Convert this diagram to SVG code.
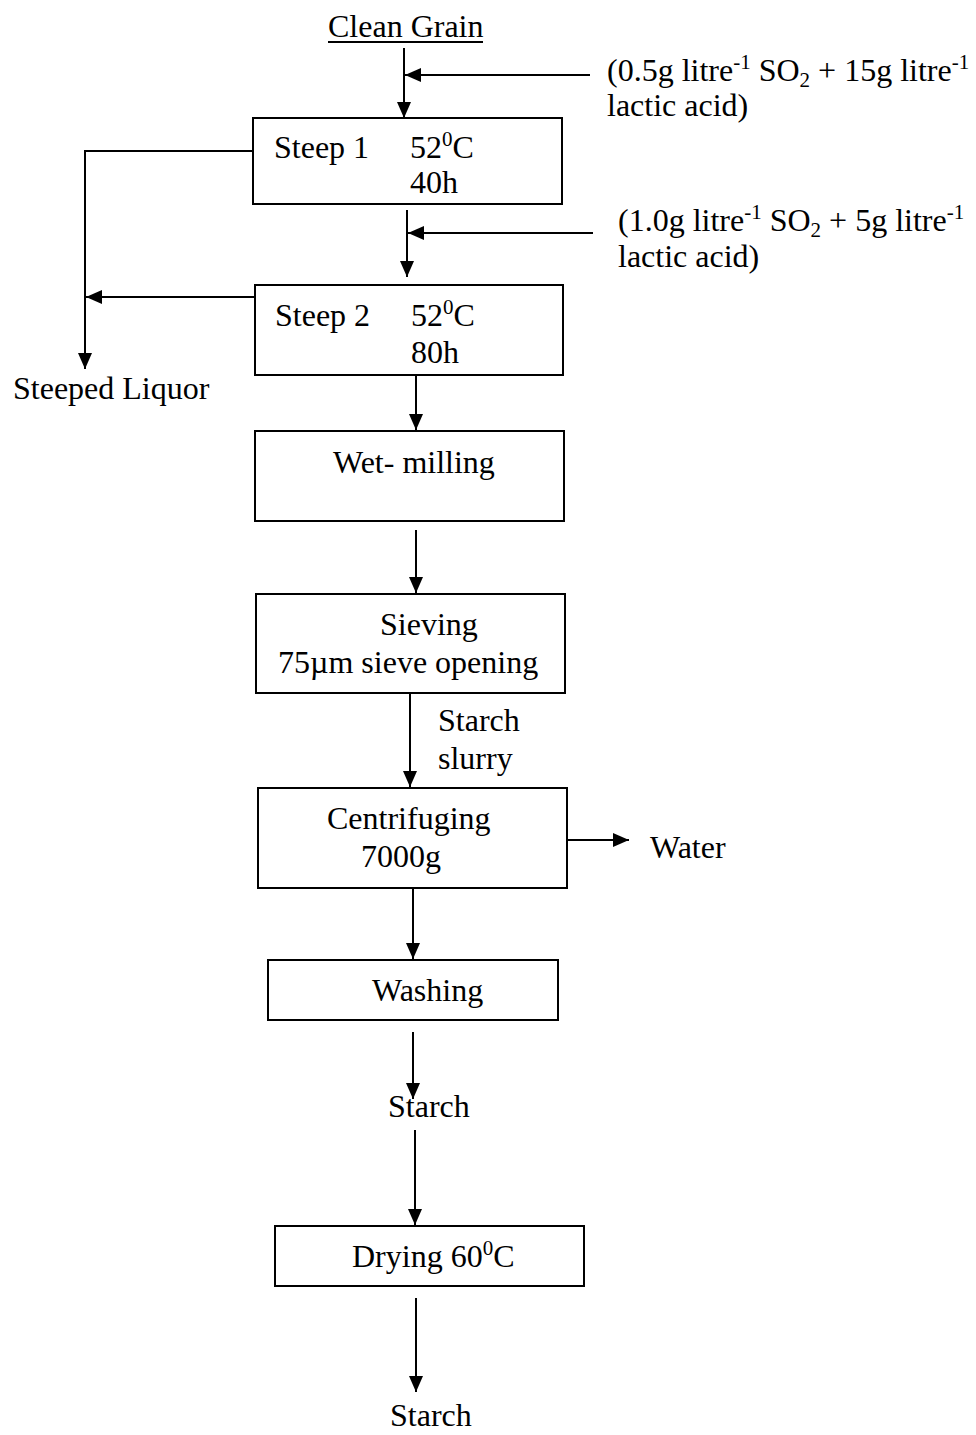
<svg xmlns="http://www.w3.org/2000/svg" width="976" height="1435" viewBox="0 0 976 1435">
<style>
text{font-family:"Liberation Serif","Times New Roman",serif;font-size:32px;fill:#000}
.box{fill:#fff;stroke:#000;stroke-width:2}
.ln{fill:none;stroke:#000;stroke-width:2}
.sup{font-size:21px}
</style>
<defs>
<marker id="ah" viewBox="0 0 16 14" refX="16" refY="7" markerWidth="16" markerHeight="14" markerUnits="userSpaceOnUse" orient="auto">
<path d="M0,0 L16,7 L0,14 z" fill="#000"/>
</marker>
</defs>
<rect width="976" height="1435" fill="#fff"/>
<g id="connectors">
<line class="ln" x1="404" y1="48" x2="404" y2="118" marker-end="url(#ah)"/>
<line class="ln" x1="590" y1="75" x2="405" y2="75" marker-end="url(#ah)"/>
<line class="ln" x1="407" y1="210" x2="407" y2="277" marker-end="url(#ah)"/>
<line class="ln" x1="593" y1="233" x2="408" y2="233" marker-end="url(#ah)"/>
<polyline class="ln" points="253,151 85,151 85,369" marker-end="url(#ah)"/>
<line class="ln" x1="255" y1="297" x2="86" y2="297" marker-end="url(#ah)"/>
<line class="ln" x1="416" y1="375" x2="416" y2="430" marker-end="url(#ah)"/>
<line class="ln" x1="416" y1="530" x2="416" y2="593" marker-end="url(#ah)"/>
<line class="ln" x1="410" y1="693" x2="410" y2="787" marker-end="url(#ah)"/>
<line class="ln" x1="567" y1="840" x2="629" y2="840" marker-end="url(#ah)"/>
<line class="ln" x1="413" y1="888" x2="413" y2="959" marker-end="url(#ah)"/>
<line class="ln" x1="413" y1="1032" x2="413" y2="1099" marker-end="url(#ah)"/>
<line class="ln" x1="415" y1="1130" x2="415" y2="1225" marker-end="url(#ah)"/>
<line class="ln" x1="416" y1="1298" x2="416" y2="1392" marker-end="url(#ah)"/>
</g>
<g id="clean-grain">
<text x="328" y="37">Clean Grain</text>
<line class="ln" x1="328" y1="42" x2="483" y2="42" stroke-width="1.5"/>
</g>
<g id="additive-1">
<text x="607" y="81">(0.5g litre<tspan class="sup" dy="-12">-1</tspan><tspan dy="12"> SO</tspan><tspan class="sup" dy="6">2</tspan><tspan dy="-6"> + 15g litre</tspan><tspan class="sup" dy="-12">-1</tspan></text>
<text x="607" y="116">lactic acid)</text>
</g>
<g id="steep-1">
<rect class="box" x="253" y="118" width="309" height="86"/>
<text x="274" y="158">Steep 1</text>
<text x="410" y="158">52<tspan class="sup" dy="-12">0</tspan><tspan dy="12">C</tspan></text>
<text x="410" y="193">40h</text>
</g>
<g id="additive-2">
<text x="618" y="231">(1.0g litre<tspan class="sup" dy="-12">-1</tspan><tspan dy="12"> SO</tspan><tspan class="sup" dy="6">2</tspan><tspan dy="-6"> + 5g litre</tspan><tspan class="sup" dy="-12">-1</tspan></text>
<text x="618" y="267">lactic acid)</text>
</g>
<g id="steep-2">
<rect class="box" x="255" y="285" width="308" height="90"/>
<text x="275" y="326">Steep 2</text>
<text x="411" y="326">52<tspan class="sup" dy="-12">0</tspan><tspan dy="12">C</tspan></text>
<text x="411" y="363">80h</text>
</g>
<g id="steeped-liquor">
<text x="13" y="399">Steeped Liquor</text>
</g>
<g id="wet-milling">
<rect class="box" x="255" y="431" width="309" height="90"/>
<text x="333" y="473">Wet- milling</text>
</g>
<g id="sieving">
<rect class="box" x="256" y="594" width="309" height="99"/>
<text x="380" y="635">Sieving</text>
<text x="278" y="673">75µm sieve opening</text>
</g>
<g id="starch-slurry">
<text x="438" y="731">Starch</text>
<text x="438" y="769">slurry</text>
</g>
<g id="centrifuging">
<rect class="box" x="258" y="788" width="309" height="100"/>
<text x="327" y="829">Centrifuging</text>
<text x="361" y="867">7000g</text>
</g>
<g id="water">
<text x="650" y="858">Water</text>
</g>
<g id="washing">
<rect class="box" x="268" y="960" width="290" height="60"/>
<text x="372" y="1001">Washing</text>
</g>
<g id="starch-1">
<text x="388" y="1117">Starch</text>
</g>
<g id="drying">
<rect class="box" x="275" y="1226" width="309" height="60"/>
<text x="352" y="1267">Drying 60<tspan class="sup" dy="-12">0</tspan><tspan dy="12">C</tspan></text>
</g>
<g id="starch-2">
<text x="390" y="1426">Starch</text>
</g>
</svg>
